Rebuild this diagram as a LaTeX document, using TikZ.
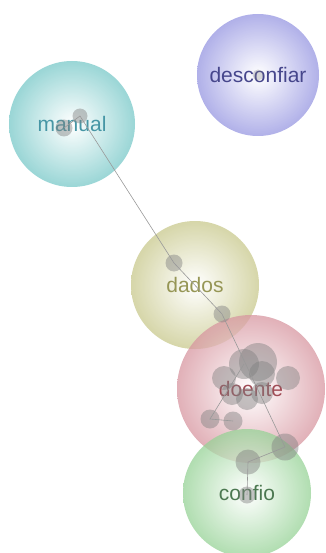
\documentclass[tikz,border=0pt]{standalone}
\usepackage{fontspec}
\setmainfont{Liberation Sans}
\definecolor{cman}{RGB}{120,200,200}
\definecolor{tman}{RGB}{70,150,165}
\definecolor{cdes}{RGB}{150,150,225}
\definecolor{tdes}{RGB}{70,70,140}
\definecolor{cdad}{RGB}{200,200,140}
\definecolor{tdad}{RGB}{150,150,85}
\definecolor{cdoe}{RGB}{215,150,160}
\definecolor{tdoe}{RGB}{160,75,85}
\definecolor{ccon}{RGB}{150,210,150}
\definecolor{tcon}{RGB}{75,120,80}
\tikzset{
  bubble/.style={circle, minimum size=126pt, inner sep=0pt, opacity=0.75, text opacity=1,
    font=\fontsize{21}{21}\selectfont},
  dot/.style={circle, fill=gray, fill opacity=0.45, draw=none, inner sep=0pt, minimum size=#1},
  dot/.default=15pt,
  edge/.style={draw=gray!80, line width=0.6pt},
}
\begin{document}
\begin{tikzpicture}[x=1pt,y=-1pt]
\path[use as bounding box] (0,0) rectangle (325,553);
\node[bubble, inner color=white, outer color=cman, text=tman] (manual) at (72,124) {manual};
\node[bubble, inner color=white, outer color=cdes, text=tdes, minimum size=122pt] (desconfiar) at (258,75) {desconfiar};
\node[bubble, inner color=white, outer color=cdad, text=tdad, minimum size=128pt] (dados) at (195,285) {dados};
\node[bubble, inner color=white, outer color=cdoe, text=tdoe, minimum size=148pt] (doente) at (251,389) {doente};
\node[bubble, inner color=white, outer color=ccon, text=tcon, minimum size=128pt] (confio) at (247,493) {confio};
% dots
\node[dot=17pt] (m1) at (64,128) {};
\node[dot=15pt] (m2) at (80,116) {};
\node[dot=11pt, fill opacity=0.3] (ds1) at (258,75) {};
\node[dot=17pt] (da1) at (174,263) {};
\node[dot=17pt] (da2) at (222,314) {};
\node[dot=38pt] (k1) at (258,362) {};
\node[dot=30pt] (k2) at (244,364) {};
\node[dot=26pt] (k3) at (262,374) {};
\node[dot=24pt] (k4) at (224,378) {};
\node[dot=24pt] (k5) at (288,378) {};
\node[dot=22pt] (k6) at (232,394) {};
\node[dot=22pt] (k7) at (262,393) {};
\node[dot=22pt] (k8) at (247,399) {};
\node[dot=19pt] (k9) at (210,419) {};
\node[dot=19pt] (k10) at (233,421) {};
\node[dot=27pt] (c1) at (285,447) {};
\node[dot=25pt] (c2) at (248,462) {};
\node[dot=17pt] (c3) at (247,495) {};
% edges
\draw[edge] (m1.center) -- (m2.center) -- (da1.center) -- (da2.center) -- (c1.center);
\draw[edge] (c1.center) -- (c2.center) -- (c3.center);
\draw[edge] (k2.center) -- (k9.center) -- (k10.center);
\end{tikzpicture}
\end{document}
